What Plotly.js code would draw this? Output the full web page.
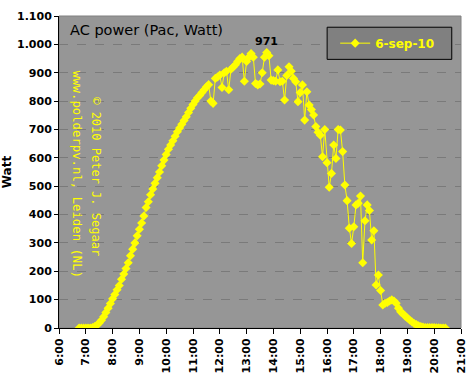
<!DOCTYPE html>
<html>
<head>
<meta charset="utf-8">
<script src="https://cdn.plot.ly/plotly-3.0.1.min.js"></script>
<style>html,body{margin:0;padding:0;background:#fff;}#chart{width:472px;height:381px;}</style>
</head>
<body>
<div id="chart"></div>
<script>
// 5-minute readings, 6 September 2010
const times = [
"6:45","6:50","6:55","7:00","7:05","7:10","7:15","7:20","7:25","7:30","7:35","7:40","7:45","7:50","7:55",
"8:00","8:05","8:10","8:15","8:20","8:25","8:30","8:35","8:40","8:45","8:50","8:55",
"9:00","9:05","9:10","9:15","9:20","9:25","9:30","9:35","9:40","9:45","9:50","9:55",
"10:00","10:05","10:10","10:15","10:20","10:25","10:30","10:35","10:40","10:45","10:50","10:55",
"11:00","11:05","11:10","11:15","11:20","11:25","11:30","11:35","11:40","11:45","11:50","11:55",
"12:00","12:05","12:10","12:15","12:20","12:25","12:30","12:35","12:40","12:45","12:50","12:55",
"13:00","13:05","13:10","13:15","13:20","13:25","13:30","13:35","13:40","13:45","13:50","13:55",
"14:00","14:05","14:10","14:15","14:20","14:25","14:30","14:35","14:40","14:45","14:50","14:55",
"15:00","15:05","15:10","15:15","15:20","15:25","15:30","15:35","15:40","15:45","15:50","15:55",
"16:00","16:05","16:10","16:15","16:20","16:25","16:30","16:35","16:40","16:45","16:50","16:55",
"17:00","17:05","17:10","17:15","17:20","17:25","17:30","17:35","17:40","17:45","17:50","17:55",
"18:00","18:05","18:10","18:15","18:20","18:25","18:30","18:35","18:40","18:45","18:50","18:55",
"19:00","19:05","19:10","19:15","19:20","19:25","19:30","19:35","19:40","19:45","19:50","19:55",
"20:00","20:05","20:10","20:15","20:20","20:25"
];
const watts = [
0,0,0,0,0,0,2,5,10,18,27,40,55,70,86,
103,118,135,150,172,190,210,230,255,278,300,325,
348,370,395,425,445,470,490,510,530,550,572,592,
612,630,645,660,676,692,705,718,732,745,760,775,
788,800,812,820,830,840,850,858,800,792,880,885,
892,848,900,905,840,912,920,928,940,950,955,870,
940,955,968,955,862,857,860,900,955,971,960,874,
872,870,910,868,870,804,890,921,905,880,868,798,
830,857,733,833,786,770,751,710,690,680,604,700,
583,496,545,645,598,700,698,622,504,449,352,298,
357,434,440,465,230,378,434,414,310,343,152,187,
132,81,87,90,95,99,95,87,70,57,50,42,
35,28,22,16,12,8,5,3,2,2,2,2,
2,1,1,0,0,0
];
const seriesName = "6-sep-10";
const day = "2010-09-06";
const xTickLabels = ["6:00","7:00","8:00","9:00","10:00","11:00","12:00","13:00","14:00","15:00","16:00","17:00","18:00","19:00","20:00","21:00"];
const yTickValues = [0,100,200,300,400,500,600,700,800,900,1000,1100];
const yTickLabels = ["0","100","200","300","400","500","600","700","800","900","1.000","1.100"];

function toDate(t){
  const p = t.split(":");
  return day + " " + (p[0].length < 2 ? "0" + p[0] : p[0]) + ":" + p[1];
}
const xs = times.map(toDate);
const xTickVals = xTickLabels.map(toDate);

let maxI = 0;
watts.forEach((v,i)=>{ if (v > watts[maxI]) maxI = i; });

const FONT = "DejaVu Sans, Verdana, sans-serif";
const MONO = "DejaVu Sans Mono, monospace";

const trace = {
  x: xs, y: watts, type: "scatter", mode: "lines+markers", name: seriesName,
  line: {color: "#ffff00", width: 1},
  marker: {symbol: "diamond", size: 7, color: "#ffff00"}
};

const layout = {
  width: 472, height: 381,
  margin: {l: 59, r: 11, t: 16, b: 53},
  paper_bgcolor: "#ffffff",
  plot_bgcolor: "#969696",
  showlegend: true,
  legend: {
    x: 0.687, y: 0.913, xanchor: "left", yanchor: "middle",
    bgcolor: "rgba(0,0,0,0)", borderwidth: 0,
    font: {family: FONT, size: 12, color: "#ffff00", weight: "bold"},
    itemwidth: 30
  },
  xaxis: {
    type: "date",
    range: [toDate("6:00"), toDate("21:00")],
    tickvals: xTickVals, ticktext: xTickLabels,
    tickangle: -90,
    tickfont: {family: FONT, size: 11, color: "#000", weight: "bold"},
    ticks: "outside", ticklen: 5, tickcolor: "#000", tickwidth: 1,
    showgrid: false, zeroline: false,
    showline: true, linecolor: "#000", linewidth: 1,
    fixedrange: true
  },
  yaxis: {
    range: [0, 1100],
    tickvals: yTickValues, ticktext: yTickLabels,
    tickfont: {family: FONT, size: 11, color: "#000", weight: "bold"},
    ticks: "outside", ticklen: 4, tickcolor: "#000", tickwidth: 1,
    showgrid: true, gridcolor: "#7a7a7a", griddash: "dash", gridwidth: 1,
    zeroline: false,
    showline: true, linecolor: "#000", linewidth: 1,
    title: {text: "Watt", font: {family: FONT, size: 12, color: "#000", weight: "bold"}, standoff: 9},
    fixedrange: true
  },
  shapes: [
    {type: "rect", xref: "paper", yref: "paper", x0: 0, x1: 1, y0: 0, y1: 1,
     line: {color: "#808080", width: 1}, layer: "below"},
    {type: "rect", xref: "paper", yref: "paper", x0: 0.667, x1: 0.977, y0: 0.861, y1: 0.964,
     fillcolor: "#808080", line: {color: "#000000", width: 1}, layer: "above"}
  ],
  annotations: [
    {text: "AC power (Pac, Watt)", xref: "paper", yref: "paper", x: 0.022, y: 0.986,
     xanchor: "left", yanchor: "top", showarrow: false,
     font: {family: FONT, size: 14.5, color: "#000"}},
    {text: String(watts[maxI]), x: xs[maxI], y: watts[maxI], xref: "x", yref: "y",
     showarrow: false, yanchor: "bottom", yshift: 3,
     font: {family: FONT, size: 11, color: "#000", weight: "bold"}},
    {text: "© 2010 Peter J. Segaar", xref: "paper", yref: "paper", x: 0.09, y: 0.486,
     textangle: 90, showarrow: false, xanchor: "center", yanchor: "middle",
     font: {family: MONO, size: 12, color: "#ffff00"}},
    {text: "www.polderpv.nl, Leiden (NL)", xref: "paper", yref: "paper", x: 0.045, y: 0.494,
     textangle: 90, showarrow: false, xanchor: "center", yanchor: "middle",
     font: {family: MONO, size: 12.3, color: "#ffff00"}}
  ]
};

Plotly.newPlot("chart", [trace], layout, {displayModeBar: false, staticPlot: true});
</script>
</body>
</html>
